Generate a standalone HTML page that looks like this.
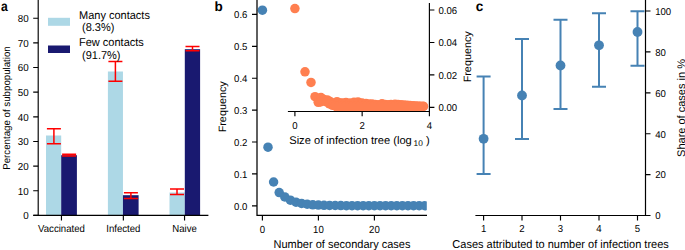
<!DOCTYPE html>
<html><head><meta charset="utf-8"><style>
html,body{margin:0;padding:0;background:#fff;width:685px;height:250px;overflow:hidden}
svg{display:block}
text{font-family:"Liberation Sans",sans-serif;text-rendering:geometricPrecision}
</style></head><body>
<svg width="685" height="250" viewBox="0 0 685 250">
<rect width="685" height="250" fill="#fff"/>
<text transform="translate(1.1,10.9) scale(0.9,1.04)" font-size="13.5" font-weight="bold" fill="#000">a</text>
<rect x="46.0" y="135.5" width="15.20" height="79.90" fill="#add8e6"/>
<rect x="61.2" y="155.2" width="15.70" height="60.20" fill="#191970"/>
<rect x="107.9" y="71.5" width="15.05" height="143.90" fill="#add8e6"/>
<rect x="122.95" y="195.2" width="15.65" height="20.20" fill="#191970"/>
<rect x="169.5" y="192.5" width="15.30" height="22.90" fill="#add8e6"/>
<rect x="184.8" y="49.2" width="15.30" height="166.20" fill="#191970"/>
<path d="M46.90,128.8H60.90M53.90,128.8V143.8M46.90,143.8H60.90" stroke="#ff0000" stroke-width="1.5" fill="none"/>
<path d="M62.10,154.2H76.10M69.10,154.2V156.1M62.10,156.1H76.10" stroke="#ff0000" stroke-width="1.5" fill="none"/>
<path d="M108.40,61.5H122.40M115.40,61.5V81.3M108.40,81.3H122.40" stroke="#ff0000" stroke-width="1.5" fill="none"/>
<path d="M123.90,192.8H137.90M130.90,192.8V198.6M123.90,198.6H137.90" stroke="#ff0000" stroke-width="1.5" fill="none"/>
<path d="M170.00,189.0H184.00M177.00,189.0V194.5M170.00,194.5H184.00" stroke="#ff0000" stroke-width="1.5" fill="none"/>
<path d="M185.50,46.4H199.50M192.50,46.4V50.8M185.50,50.8H199.50" stroke="#ff0000" stroke-width="1.5" fill="none"/>
<path d="M38.2,0V215.4M33.4,215.4H208.4" stroke="#000" stroke-width="1.15" fill="none"/>
<path d="M33.2,215.40H38.2M33.2,190.75H38.2M33.2,166.10H38.2M33.2,141.45H38.2M33.2,116.80H38.2M33.2,92.15H38.2M33.2,67.50H38.2M33.2,42.85H38.2M33.2,18.20H38.2M61.45,215.4V220.4M123.35,215.4V220.4M184.55,215.4V220.4" stroke="#000" stroke-width="1.15" fill="none"/>
<text transform="translate(28.7,219.2) scale(1,1.04)" font-size="9.8" text-anchor="end" fill="#000">0</text>
<text transform="translate(28.7,194.55) scale(1,1.04)" font-size="9.8" text-anchor="end" fill="#000">10</text>
<text transform="translate(28.7,169.9) scale(1,1.04)" font-size="9.8" text-anchor="end" fill="#000">20</text>
<text transform="translate(28.7,145.25) scale(1,1.04)" font-size="9.8" text-anchor="end" fill="#000">30</text>
<text transform="translate(28.7,120.6) scale(1,1.04)" font-size="9.8" text-anchor="end" fill="#000">40</text>
<text transform="translate(28.7,95.95) scale(1,1.04)" font-size="9.8" text-anchor="end" fill="#000">50</text>
<text transform="translate(28.7,71.3) scale(1,1.04)" font-size="9.8" text-anchor="end" fill="#000">60</text>
<text transform="translate(28.7,46.65) scale(1,1.04)" font-size="9.8" text-anchor="end" fill="#000">70</text>
<text transform="translate(28.7,22.0) scale(1,1.04)" font-size="9.8" text-anchor="end" fill="#000">80</text>
<text transform="translate(61.45,232.4) scale(1,1.08)" font-size="9.6" text-anchor="middle" fill="#000">Vaccinated</text>
<text transform="translate(123.35,232.4) scale(1,1.08)" font-size="9.6" text-anchor="middle" fill="#000">Infected</text>
<text transform="translate(184.55,232.4) scale(1,1.08)" font-size="9.6" text-anchor="middle" fill="#000">Naive</text>
<text transform="translate(10.4,108) scale(1,0.97) rotate(-90)" font-size="10" text-anchor="middle" fill="#000">Percentage of subpopulation</text>
<rect x="48" y="17.8" width="22" height="8" fill="#add8e6"/>
<rect x="48" y="45.5" width="22" height="7.5" fill="#191970"/>
<text transform="translate(79,18.5) scale(1,1.04)" font-size="11" fill="#000">Many contacts</text>
<text transform="translate(82,31.0) scale(1,1.04)" font-size="11" fill="#000">(8.3%)</text>
<text transform="translate(79,46.4) scale(1,1.04)" font-size="11" fill="#000">Few contacts</text>
<text transform="translate(82,58.9) scale(1,1.04)" font-size="11" fill="#000">(91.7%)</text>
<text transform="translate(214.6,10.9) scale(1,1.0)" font-size="13.5" font-weight="bold" fill="#000">b</text>
<defs><clipPath id="cb"><rect x="257" y="0" width="169.8" height="215"/></clipPath></defs>
<g clip-path="url(#cb)">
<circle cx="262.40" cy="10.20" r="4.75" fill="#4682b4"/>
<circle cx="268.00" cy="147.20" r="4.75" fill="#4682b4"/>
<circle cx="273.60" cy="182.00" r="4.75" fill="#4682b4"/>
<circle cx="279.20" cy="192.60" r="4.75" fill="#4682b4"/>
<circle cx="284.80" cy="196.90" r="4.75" fill="#4682b4"/>
<circle cx="290.40" cy="200.20" r="4.75" fill="#4682b4"/>
<circle cx="296.00" cy="202.20" r="4.75" fill="#4682b4"/>
<circle cx="301.60" cy="203.40" r="4.75" fill="#4682b4"/>
<circle cx="307.20" cy="204.20" r="4.75" fill="#4682b4"/>
<circle cx="312.80" cy="204.80" r="4.75" fill="#4682b4"/>
<circle cx="318.40" cy="205.10" r="4.75" fill="#4682b4"/>
<circle cx="324.00" cy="205.30" r="4.75" fill="#4682b4"/>
<circle cx="329.60" cy="205.40" r="4.75" fill="#4682b4"/>
<circle cx="335.20" cy="205.50" r="4.75" fill="#4682b4"/>
<circle cx="340.80" cy="205.60" r="4.75" fill="#4682b4"/>
<circle cx="346.40" cy="205.70" r="4.75" fill="#4682b4"/>
<circle cx="352.00" cy="205.70" r="4.75" fill="#4682b4"/>
<circle cx="357.60" cy="205.70" r="4.75" fill="#4682b4"/>
<circle cx="363.20" cy="205.70" r="4.75" fill="#4682b4"/>
<circle cx="368.80" cy="205.70" r="4.75" fill="#4682b4"/>
<circle cx="374.40" cy="205.70" r="4.75" fill="#4682b4"/>
<circle cx="380.00" cy="205.70" r="4.75" fill="#4682b4"/>
<circle cx="385.60" cy="205.70" r="4.75" fill="#4682b4"/>
<circle cx="391.20" cy="205.70" r="4.75" fill="#4682b4"/>
<circle cx="396.80" cy="205.70" r="4.75" fill="#4682b4"/>
<circle cx="402.40" cy="205.70" r="4.75" fill="#4682b4"/>
<circle cx="408.00" cy="205.70" r="4.75" fill="#4682b4"/>
<circle cx="413.60" cy="205.70" r="4.75" fill="#4682b4"/>
<circle cx="419.20" cy="205.70" r="4.75" fill="#4682b4"/>
<circle cx="424.80" cy="205.70" r="4.75" fill="#4682b4"/>
</g>
<path d="M257,0V215.4H427" stroke="#000" stroke-width="1.25" fill="none"/>
<path d="M252,205.80H257M252,173.90H257M252,142.00H257M252,110.10H257M252,78.20H257M252,46.30H257M252,14.40H257M262.40,215.4V220.4M318.40,215.4V220.4M374.40,215.4V220.4" stroke="#000" stroke-width="1.15" fill="none"/>
<text transform="translate(247.4,209.5) scale(1,1.04)" font-size="9.6" text-anchor="end" fill="#000">0.0</text>
<text transform="translate(247.4,177.6) scale(1,1.04)" font-size="9.6" text-anchor="end" fill="#000">0.1</text>
<text transform="translate(247.4,145.7) scale(1,1.04)" font-size="9.6" text-anchor="end" fill="#000">0.2</text>
<text transform="translate(247.4,113.8) scale(1,1.04)" font-size="9.6" text-anchor="end" fill="#000">0.3</text>
<text transform="translate(247.4,81.9) scale(1,1.04)" font-size="9.6" text-anchor="end" fill="#000">0.4</text>
<text transform="translate(247.4,50.0) scale(1,1.04)" font-size="9.6" text-anchor="end" fill="#000">0.5</text>
<text transform="translate(247.4,18.1) scale(1,1.04)" font-size="9.6" text-anchor="end" fill="#000">0.6</text>
<text transform="translate(262.4,232.6) scale(1,1.08)" font-size="9.6" text-anchor="middle" fill="#000">0</text>
<text transform="translate(318.4,232.6) scale(1,1.08)" font-size="9.6" text-anchor="middle" fill="#000">10</text>
<text transform="translate(374.4,232.6) scale(1,1.08)" font-size="9.6" text-anchor="middle" fill="#000">20</text>
<text transform="translate(342.0,247.7) scale(1,1.04)" font-size="11" text-anchor="middle" fill="#000">Number of secondary cases</text>
<text transform="translate(225.9,106.8) scale(1,1.02) rotate(-90)" font-size="10.6" text-anchor="middle" fill="#000">Frequency</text>
<circle cx="294.9" cy="8.6" r="4.75" fill="#ff7f50"/>
<circle cx="305" cy="71.8" r="4.75" fill="#ff7f50"/>
<circle cx="311" cy="82.4" r="4.75" fill="#ff7f50"/>
<circle cx="315" cy="96.7" r="4.75" fill="#ff7f50"/>
<circle cx="318.2" cy="102.3" r="4.75" fill="#ff7f50"/>
<circle cx="321" cy="97.6" r="4.75" fill="#ff7f50"/>
<circle cx="324" cy="99.6" r="4.75" fill="#ff7f50"/>
<circle cx="327.3" cy="99.9" r="4.75" fill="#ff7f50"/>
<circle cx="330" cy="101.4" r="4.75" fill="#ff7f50"/>
<circle cx="333" cy="103.4" r="4.75" fill="#ff7f50"/>
<circle cx="337" cy="101.7" r="4.75" fill="#ff7f50"/>
<circle cx="340.5" cy="103.1" r="4.75" fill="#ff7f50"/>
<circle cx="343" cy="103" r="4.75" fill="#ff7f50"/>
<circle cx="346" cy="102.6" r="4.75" fill="#ff7f50"/>
<circle cx="350" cy="103.1" r="4.75" fill="#ff7f50"/>
<circle cx="354" cy="102.3" r="4.75" fill="#ff7f50"/>
<circle cx="358" cy="101.9" r="4.75" fill="#ff7f50"/>
<circle cx="362" cy="102.9" r="4.75" fill="#ff7f50"/>
<circle cx="366" cy="103.6" r="4.75" fill="#ff7f50"/>
<circle cx="369" cy="103.9" r="4.75" fill="#ff7f50"/>
<circle cx="372" cy="104" r="4.75" fill="#ff7f50"/>
<circle cx="375" cy="104.5" r="4.75" fill="#ff7f50"/>
<circle cx="378" cy="104.7" r="4.75" fill="#ff7f50"/>
<circle cx="382" cy="103.8" r="4.75" fill="#ff7f50"/>
<circle cx="385" cy="104.6" r="4.75" fill="#ff7f50"/>
<circle cx="388" cy="104.7" r="4.75" fill="#ff7f50"/>
<circle cx="391" cy="104.4" r="4.75" fill="#ff7f50"/>
<circle cx="395" cy="104.2" r="4.75" fill="#ff7f50"/>
<circle cx="398" cy="104.5" r="4.75" fill="#ff7f50"/>
<circle cx="401" cy="104.7" r="4.75" fill="#ff7f50"/>
<circle cx="404" cy="105" r="4.75" fill="#ff7f50"/>
<circle cx="407" cy="105.3" r="4.75" fill="#ff7f50"/>
<circle cx="410" cy="105.6" r="4.75" fill="#ff7f50"/>
<circle cx="413" cy="105.8" r="4.75" fill="#ff7f50"/>
<circle cx="416" cy="106.1" r="4.75" fill="#ff7f50"/>
<circle cx="419" cy="106.3" r="4.75" fill="#ff7f50"/>
<circle cx="421.5" cy="106.4" r="4.75" fill="#ff7f50"/>
<circle cx="423.5" cy="106.4" r="4.75" fill="#ff7f50"/>
<circle cx="320.5" cy="102" r="4.75" fill="#ff7f50"/>
<circle cx="326.5" cy="102" r="4.75" fill="#ff7f50"/>
<circle cx="329.5" cy="104" r="4.75" fill="#ff7f50"/>
<circle cx="332.5" cy="105.3" r="4.75" fill="#ff7f50"/>
<circle cx="335.5" cy="106.2" r="4.75" fill="#ff7f50"/>
<circle cx="339.0" cy="106.2" r="4.75" fill="#ff7f50"/>
<circle cx="342.5" cy="106.2" r="4.75" fill="#ff7f50"/>
<circle cx="346.0" cy="106.2" r="4.75" fill="#ff7f50"/>
<circle cx="349.5" cy="106.2" r="4.75" fill="#ff7f50"/>
<circle cx="353.0" cy="106.2" r="4.75" fill="#ff7f50"/>
<circle cx="356.5" cy="106.2" r="4.75" fill="#ff7f50"/>
<circle cx="360.0" cy="106.2" r="4.75" fill="#ff7f50"/>
<circle cx="363.5" cy="106.2" r="4.75" fill="#ff7f50"/>
<circle cx="367.0" cy="106.2" r="4.75" fill="#ff7f50"/>
<circle cx="370.5" cy="106.2" r="4.75" fill="#ff7f50"/>
<circle cx="374.0" cy="106.2" r="4.75" fill="#ff7f50"/>
<circle cx="377.5" cy="106.2" r="4.75" fill="#ff7f50"/>
<circle cx="381.0" cy="106.2" r="4.75" fill="#ff7f50"/>
<circle cx="384.5" cy="106.2" r="4.75" fill="#ff7f50"/>
<circle cx="388.0" cy="106.2" r="4.75" fill="#ff7f50"/>
<circle cx="391.5" cy="106.2" r="4.75" fill="#ff7f50"/>
<circle cx="395.0" cy="106.2" r="4.75" fill="#ff7f50"/>
<circle cx="398.5" cy="106.2" r="4.75" fill="#ff7f50"/>
<circle cx="402.0" cy="106.2" r="4.75" fill="#ff7f50"/>
<circle cx="405.5" cy="106.2" r="4.75" fill="#ff7f50"/>
<circle cx="409.0" cy="106.2" r="4.75" fill="#ff7f50"/>
<circle cx="412.5" cy="106.2" r="4.75" fill="#ff7f50"/>
<circle cx="416.0" cy="106.2" r="4.75" fill="#ff7f50"/>
<circle cx="419.5" cy="106.2" r="4.75" fill="#ff7f50"/>
<circle cx="423.0" cy="106.2" r="4.75" fill="#ff7f50"/>
<rect x="334" y="104" width="89.5" height="7" fill="#ff7f50"/>
<path d="M287.9,111.5H429.4V3" stroke="#000" stroke-width="1.15" fill="none"/>
<path d="M294.90,111.5V116.2M362.15,111.5V116.2M429.40,111.5V116.2M429.4,107.40H434.4M429.4,74.93H434.4M429.4,42.46H434.4M429.4,9.99H434.4" stroke="#000" stroke-width="1.15" fill="none"/>
<text transform="translate(294.9,128.5) scale(1,1.04)" font-size="9.6" text-anchor="middle" fill="#000">0</text>
<text transform="translate(362.15,128.5) scale(1,1.04)" font-size="9.6" text-anchor="middle" fill="#000">2</text>
<text transform="translate(429.4,128.5) scale(1,1.04)" font-size="9.6" text-anchor="middle" fill="#000">4</text>
<text transform="translate(438.5,111.1) scale(1,1.04)" font-size="9.6" fill="#000">0.00</text>
<text transform="translate(438.5,78.63) scale(1,1.04)" font-size="9.6" fill="#000">0.02</text>
<text transform="translate(438.5,46.16) scale(1,1.04)" font-size="9.6" fill="#000">0.04</text>
<text transform="translate(438.5,13.69) scale(1,1.04)" font-size="9.6" fill="#000">0.06</text>
<text transform="translate(289.2,143.9) scale(1,1.0)" font-size="11.15" fill="#000">Size of infection tree (log<tspan font-size="8.3" dx="1.7" dy="2">10</tspan><tspan dx="3.3" dy="-2">)</tspan></text>
<text transform="translate(471.2,56.8) scale(1,1.02) rotate(-90)" font-size="10.6" text-anchor="middle" fill="#000">Frequency</text>
<text transform="translate(475.8,10.8) scale(1,1.04)" font-size="13.5" font-weight="bold" fill="#000">c</text>
<path d="M476.60,76.6H490.60M483.6,76.6V174.0M476.60,174.0H490.60" stroke="#4682b4" stroke-width="2" fill="none"/>
<circle cx="483.6" cy="138.8" r="4.9" fill="#4682b4"/>
<path d="M515.00,39.0H529.00M522.0,39.0V139.0M515.00,139.0H529.00" stroke="#4682b4" stroke-width="2" fill="none"/>
<circle cx="522.0" cy="95.5" r="4.9" fill="#4682b4"/>
<path d="M553.50,19.8H567.50M560.5,19.8V109.0M553.50,109.0H567.50" stroke="#4682b4" stroke-width="2" fill="none"/>
<circle cx="560.5" cy="65.5" r="4.9" fill="#4682b4"/>
<path d="M592.00,13.3H606.00M599.0,13.3V86.8M592.00,86.8H606.00" stroke="#4682b4" stroke-width="2" fill="none"/>
<circle cx="599.0" cy="45.3" r="4.9" fill="#4682b4"/>
<path d="M630.50,11.2H644.50M637.5,11.2V65.8M630.50,65.8H644.50" stroke="#4682b4" stroke-width="2" fill="none"/>
<circle cx="637.5" cy="32.0" r="4.9" fill="#4682b4"/>
<path d="M475.4,215.5H645.5V0" stroke="#000" stroke-width="1.2" fill="none"/>
<path d="M483.6,215.5V220.5M522.0,215.5V220.5M560.5,215.5V220.5M599.0,215.5V220.5M637.5,215.5V220.5M645.5,215.50H650.5M645.5,174.60H650.5M645.5,133.70H650.5M645.5,92.80H650.5M645.5,51.90H650.5M645.5,11.00H650.5" stroke="#000" stroke-width="1.15" fill="none"/>
<text transform="translate(483.6,232.2) scale(1,1.06)" font-size="9.6" text-anchor="middle" fill="#000">1</text>
<text transform="translate(522.0,232.2) scale(1,1.06)" font-size="9.6" text-anchor="middle" fill="#000">2</text>
<text transform="translate(560.5,232.2) scale(1,1.06)" font-size="9.6" text-anchor="middle" fill="#000">3</text>
<text transform="translate(599.0,232.2) scale(1,1.06)" font-size="9.6" text-anchor="middle" fill="#000">4</text>
<text transform="translate(637.5,232.2) scale(1,1.06)" font-size="9.6" text-anchor="middle" fill="#000">5</text>
<text transform="translate(655.2,219.3) scale(1,1.04)" font-size="9.6" fill="#000">0</text>
<text transform="translate(655.2,178.4) scale(1,1.04)" font-size="9.6" fill="#000">20</text>
<text transform="translate(655.2,137.5) scale(1,1.04)" font-size="9.6" fill="#000">40</text>
<text transform="translate(655.2,96.6) scale(1,1.04)" font-size="9.6" fill="#000">60</text>
<text transform="translate(655.2,55.7) scale(1,1.04)" font-size="9.6" fill="#000">80</text>
<text transform="translate(655.2,14.8) scale(1,1.04)" font-size="9.6" fill="#000">100</text>
<text transform="translate(560.55,247.7) scale(1,1.04)" font-size="11" text-anchor="middle" fill="#000">Cases attributed to number of infection trees</text>
<text transform="translate(684.5,108) scale(1,1.0) rotate(-90)" font-size="11" text-anchor="middle" fill="#000">Share of cases in %</text>
</svg></body></html>
